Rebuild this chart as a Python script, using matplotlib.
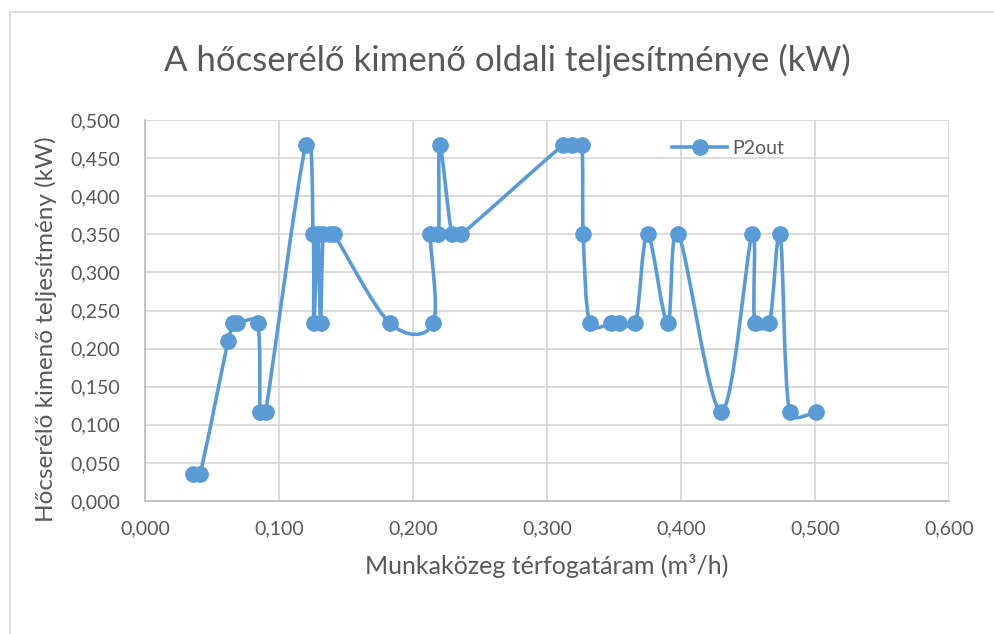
import matplotlib
matplotlib.use('Agg')
import math
import matplotlib.pyplot as plt
from matplotlib.path import Path
from matplotlib.patches import PathPatch, Rectangle
from matplotlib.lines import Line2D
from matplotlib.ticker import MultipleLocator, FuncFormatter

plt.rcParams['font.family'] = ['Lato', 'DejaVu Sans']

# munkaközeg térfogatáram (m3/h) és a kimenő oldali teljesítmény (kW), mérési sorrendben
flow = [0.036, 0.041, 0.062, 0.066, 0.069, 0.084, 0.086, 0.090, 0.120,
        0.1255, 0.126, 0.129, 0.131, 0.133, 0.138, 0.141, 0.183,
        0.215, 0.213, 0.219, 0.220, 0.229, 0.236,
        0.312, 0.319, 0.326, 0.327, 0.332, 0.348, 0.354, 0.366,
        0.375, 0.390, 0.398, 0.430, 0.453, 0.455, 0.466, 0.474, 0.481, 0.501]
p2out = [0.035, 0.035, 0.210, 0.233, 0.233, 0.233, 0.117, 0.117, 0.467,
         0.350, 0.233, 0.350, 0.233, 0.350, 0.350, 0.350, 0.233,
         0.233, 0.350, 0.350, 0.467, 0.350, 0.350,
         0.467, 0.467, 0.467, 0.350, 0.233, 0.233, 0.233, 0.233,
         0.350, 0.233, 0.350, 0.117, 0.350, 0.233, 0.233, 0.350, 0.117, 0.117]

title = 'A hőcserélő kimenő oldali teljesítménye (kW)'
xlabel = 'Munkaközeg térfogatáram (m³/h)'
ylabel = 'Hőcserélő kimenő teljesítmény (kW)'
series_name = 'P2out'

blue = '#5B9BD5'
text_gray = '#595959'

fig = plt.figure(figsize=(9.94, 6.34), dpi=100)
ax = fig.add_axes([145 / 994, 133 / 634, 804 / 994, 381 / 634])
ax.set_xlim(0, 0.6)
ax.set_ylim(0, 0.5)


def smooth_path(xs, ys):
    # simított vonal Bezier-szakaszokkal; a kontrollpontok karja a szakaszhossz felénél nem hosszabb
    n = len(xs)
    pts = [tuple(ax.transData.transform((x, y))) for x, y in zip(xs, ys)]

    def dist(a, b):
        return math.hypot(a[0] - b[0], a[1] - b[1])

    def arm(i_prev, i_next, seg):
        d = dist(pts[i_prev], pts[i_next])
        if d == 0:
            return 0.0, 0.0
        f = min(1 / 6, 0.5 * seg / d)
        return ((pts[i_next][0] - pts[i_prev][0]) * f,
                (pts[i_next][1] - pts[i_prev][1]) * f)

    verts = [pts[0]]
    codes = [Path.MOVETO]
    for i in range(n - 1):
        seg = dist(pts[i], pts[i + 1])
        a1 = arm(max(i - 1, 0), i + 1, seg)
        a2 = arm(i, min(i + 2, n - 1), seg)
        c1 = (pts[i][0] + a1[0], pts[i][1] + a1[1])
        c2 = (pts[i + 1][0] - a2[0], pts[i + 1][1] - a2[1])
        verts += [c1, c2, pts[i + 1]]
        codes += [Path.CURVE4] * 3
    inv = ax.transData.inverted()
    return Path([tuple(inv.transform(v)) for v in verts], codes)


ax.add_patch(PathPatch(smooth_path(flow, p2out), facecolor='none', edgecolor=blue,
                       lw=2.6, capstyle='round', joinstyle='round', zorder=3))
ax.plot(flow, p2out, linestyle='none', marker='o', markersize=11, color=blue, zorder=4)

ax.xaxis.set_major_locator(MultipleLocator(0.1))
ax.yaxis.set_major_locator(MultipleLocator(0.05))
fmt = FuncFormatter(lambda v, pos: f'{v:.3f}'.replace('.', ','))
ax.xaxis.set_major_formatter(fmt)
ax.yaxis.set_major_formatter(fmt)
ax.grid(True, color='#D9D9D9', lw=1.3)
ax.set_axisbelow(True)
for side in ['top', 'right']:
    ax.spines[side].set_visible(False)
for side in ['left', 'bottom']:
    ax.spines[side].set_color('#BFBFBF')
    ax.spines[side].set_linewidth(1.3)
ax.tick_params(length=0, labelsize=14, labelcolor=text_gray)
ax.tick_params(axis='y', pad=18)
ax.tick_params(axis='x', pad=14)

ax.set_xlabel(xlabel, fontsize=18, color=text_gray, labelpad=12)
fig.text(46 / 994, 1 - 329 / 634, ylabel, rotation=90, fontsize=17.5, color=text_gray,
         ha='center', va='center')
fig.text(507 / 994, 1 - 60 / 634, title, fontsize=25, color=text_gray,
         ha='center', va='center')

handle = Line2D([], [], color=blue, lw=2.6, marker='o', markersize=11)
fig.legend([handle], [series_name], loc='center left',
           bbox_to_anchor=(672 / 994, 1 - 148 / 634), frameon=False,
           fontsize=14, handlelength=2.85, handletextpad=0.25,
           borderpad=0, borderaxespad=0, labelcolor=text_gray)

# a diagram keretvonala
fig.patches.append(Rectangle((10 / 994, -0.1), 2, 1 - 12 / 634 + 0.1,
                             transform=fig.transFigure, fill=False,
                             edgecolor='#D9D9D9', lw=1.2))

fig.savefig('out.png', dpi=100)
